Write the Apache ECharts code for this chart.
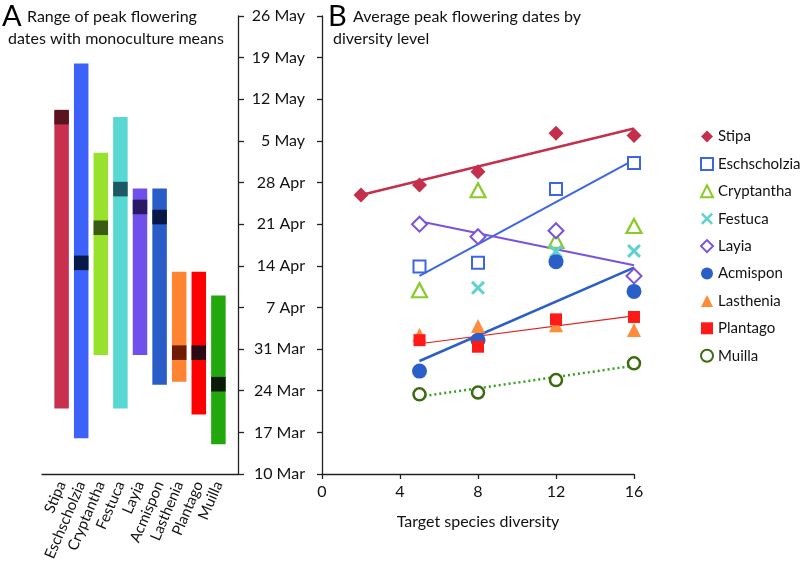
<!DOCTYPE html>
<html>
<head>
<meta charset="utf-8">
<script src="https://cdn.jsdelivr.net/npm/echarts@6/dist/echarts.min.js"></script>
<style>html,body{margin:0;padding:0;background:#fff}#c{width:802px;height:580px}</style>
</head>
<body>
<div id="c"></div>
<script>
// ---- Data ----
// Dates are expressed as days after 10 March.
const dateTicks = ['10 Mar','17 Mar','24 Mar','31 Mar','7 Apr','14 Apr','21 Apr','28 Apr','5 May','12 May','19 May','26 May'];
const speciesA = ['Stipa','Eschscholzia','Cryptantha','Festuca','Layia','Acmispon','Lasthenia','Plantago','Muilla'];
const rangeLow  = [11, 6, 20, 11, 20, 15, 15.5, 10, 5];
const rangeHigh = [61, 69, 54, 60, 48, 48, 34, 34, 30];
const monoMean  = [60, 35.5, 41.4, 47.9, 44.9, 43.2, 20.4, 20.4, 15.1];

const xTicksB = [0, 4, 8, 12, 16];
const stipaPts        = [[2,46.9],[5,48.6],[8,50.8],[12,57.3],[16,56.9]];
const eschscholziaPts = [[5,34.9],[8,35.5],[12,47.9],[16,52.3]];
const cryptanthaPts   = [[5,30.9],[8,47.7],[12,39.2],[16,41.7]];
const festucaPts      = [[8,31.3],[12,37.4],[16,37.5]];
const layiaPts        = [[5,42.0],[8,39.9],[12,40.9],[16,33.3]];
const acmisponPts     = [[5,17.3],[8,22.5],[12,35.7],[16,30.7]];
const lastheniaPts    = [[5,23.4],[8,24.9],[12,25.0],[16,24.2]];
const plantagoPts     = [[5,22.5],[8,21.4],[12,26.0],[16,26.4]];
const muillaPts       = [[5,13.4],[8,13.7],[12,15.8],[16,18.6]];

const stipaTrend        = [[2,46.9],[16,58.1]];
const eschscholziaTrend = [[5,33.3],[16,52.8]];
const layiaTrend        = [[5,42.5],[16,35.1]];
const acmisponTrend     = [[5,19.0],[16,34.7]];
const plantagoTrend     = [[5,21.9],[16,26.6]];
const muillaTrend       = [[5,13.0],[16,18.2]];

// ---- Styles ----
const FONT = 'Lato';
const barColors  = ['#c8304e','#3d62fa','#98e22e','#58d8d2','#7050ea','#2a5cc8','#ff8432','#ff0000','#22a80c'];
const meanColors = ['#5a1420','#0a1a48','#3a5c10','#1c5866','#2a1a66','#0a1848','#701c05','#2a0a14','#0c1a0c'];
const axisCol = '#222';

const barData = speciesA.map((s,i)=>[i+1, rangeLow[i], rangeHigh[i], monoMean[i]]);

const chart = echarts.init(document.getElementById('c'));
const xPath = 'path://M0,3 L3,0 L10,7 L17,0 L20,3 L13,10 L20,17 L17,20 L10,13 L3,20 L0,17 L7,10 Z';

function scatter(name, data, symbol, size, style, z) {
  return {name, type:'scatter', xAxisIndex:1, yAxisIndex:1, data, symbol, symbolSize:size,
    itemStyle: Object.assign({opacity:1}, style), z: z||3, emphasis:{disabled:true}};
}
function trend(name, data, color, width, type) {
  return {name, type:'line', xAxisIndex:1, yAxisIndex:1, data, symbol:'none',
    lineStyle:{color, width, type: type||'solid'}, z:2, silent:true};
}

chart.setOption({
  animation:false,
  textStyle:{fontFamily:FONT},
  grid:[
    {left:42, right:564, top:16, bottom:106},
    {left:322, right:168, top:16, bottom:106}
  ],
  xAxis:[
    {type:'value', gridIndex:0, min:0, max:10, interval:1,
     axisLine:{show:true, onZero:false, lineStyle:{color:axisCol, width:1.3}}, axisTick:{show:false}, splitLine:{show:false},
     axisLabel:{rotate:67, fontSize:15, color:'#111', fontFamily:FONT, margin:8,
       formatter:v=> (v>=1 && v<=9) ? speciesA[v-1] : ''}},
    {type:'value', gridIndex:1, min:0, max:16, interval:4,
     axisLine:{show:true, onZero:false, lineStyle:{color:axisCol, width:1.3}},
     axisTick:{show:true, length:5, lineStyle:{color:axisCol, width:1.3}}, splitLine:{show:false},
     axisLabel:{fontSize:16, color:'#111', fontFamily:FONT, margin:10},
     name:'Target species diversity', nameLocation:'middle', nameGap:40,
     nameTextStyle:{fontSize:16, color:'#111', fontFamily:FONT}}
  ],
  yAxis:[
    {type:'value', gridIndex:0, position:'right', min:0, max:77, interval:7,
     axisLine:{show:true, onZero:false, lineStyle:{color:axisCol, width:1.3}},
     axisTick:{show:true, inside:false, length:6, lineStyle:{color:axisCol, width:1.3}}, splitLine:{show:false},
     axisLabel:{fontSize:16, color:'#111', fontFamily:FONT, align:'right', margin:67,
       formatter:v=>dateTicks[Math.round(v/7)]}},
    {type:'value', gridIndex:1, min:0, max:77, interval:7,
     axisLine:{show:true, onZero:false, lineStyle:{color:axisCol, width:1.3}},
     axisTick:{show:true, length:5, lineStyle:{color:axisCol, width:1.3}}, splitLine:{show:false},
     axisLabel:{show:false}}
  ],
  legend:{
    orient:'vertical', left:695, top:124, itemWidth:12, itemHeight:12, itemGap:12.4,
    textStyle:{fontSize:15, color:'#111', fontFamily:FONT}, selectedMode:false,
    data:['Stipa','Eschscholzia','Cryptantha','Festuca','Layia','Acmispon','Lasthenia','Plantago','Muilla']
  },
  graphic:[
    {type:'text', left:2, top:2, style:{text:'A', fontSize:29, fontFamily:FONT, fill:'#000'}},
    {type:'text', left:27, top:9, style:{text:'Range of peak flowering', fontSize:16, fontFamily:FONT, fill:'#111'}},
    {type:'text', left:8, top:31, style:{text:'dates with monoculture means', fontSize:16, fontFamily:FONT, fill:'#111'}},
    {type:'text', left:328, top:2, style:{text:'B', fontSize:29, fontFamily:FONT, fill:'#000'}},
    {type:'text', left:353, top:9, style:{text:'Average peak flowering dates by', fontSize:16, fontFamily:FONT, fill:'#111'}},
    {type:'text', left:333, top:31, style:{text:'diversity level', fontSize:16, fontFamily:FONT, fill:'#111'}}
  ],
  series:[
    {type:'custom', xAxisIndex:0, yAxisIndex:0, data:barData, silent:true,
     encode:{x:0, y:[1,2]},
     renderItem:(params, api)=>{
       const i = params.dataIndex;
       const x = api.value(0);
       const top = api.coord([x, api.value(2)]);
       const bot = api.coord([x, api.value(1)]);
       const m = api.coord([x, api.value(3)]);
       const w = api.size([0.74, 0])[0];
       const mh = api.size([0, 2.45])[1];
       return {type:'group', children:[
         {type:'rect', shape:{x:top[0]-w/2, y:top[1], width:w, height:bot[1]-top[1]}, style:{fill:barColors[i]}},
         {type:'rect', shape:{x:m[0]-w/2, y:m[1]-mh/2, width:w, height:mh}, style:{fill:meanColors[i]}}
       ]};
     }},
    trend('Stipa fit', stipaTrend, '#c4304b', 2.5),
    trend('Eschscholzia fit', eschscholziaTrend, '#3d66e6', 2),
    trend('Layia fit', layiaTrend, '#7a52e0', 2),
    trend('Acmispon fit', acmisponTrend, '#2a5ec8', 2.5),
    trend('Plantago fit', plantagoTrend, '#e02020', 1.2),
    trend('Muilla fit', muillaTrend, '#33a01a', 2.5, [2,3]),
    scatter('Stipa', stipaPts, 'diamond', [15,15], {color:'#c4304b'}),
    scatter('Eschscholzia', eschscholziaPts, 'rect', [12,12], {color:'#fff', borderColor:'#3d66e6', borderWidth:2}),
    scatter('Cryptantha', cryptanthaPts, 'triangle', [15,14], {color:'#fff', borderColor:'#88cc28', borderWidth:2.2}),
    scatter('Festuca', festucaPts, xPath, [14,14], {color:'#5ed2d0'}),
    scatter('Layia', layiaPts, 'diamond', [15,15], {color:'#fff', borderColor:'#7a52e0', borderWidth:2}),
    scatter('Acmispon', acmisponPts, 'circle', [15,15], {color:'#2a5ec8'}),
    scatter('Lasthenia', lastheniaPts, 'triangle', [14,14], {color:'#ff8c3a'}),
    scatter('Plantago', plantagoPts, 'rect', [12,12], {color:'#ff1a1a'}),
    scatter('Muilla', muillaPts, 'circle', [12,12], {color:'#fff', borderColor:'#3d6b10', borderWidth:2.5})
  ]
});
</script>
</body>
</html>
